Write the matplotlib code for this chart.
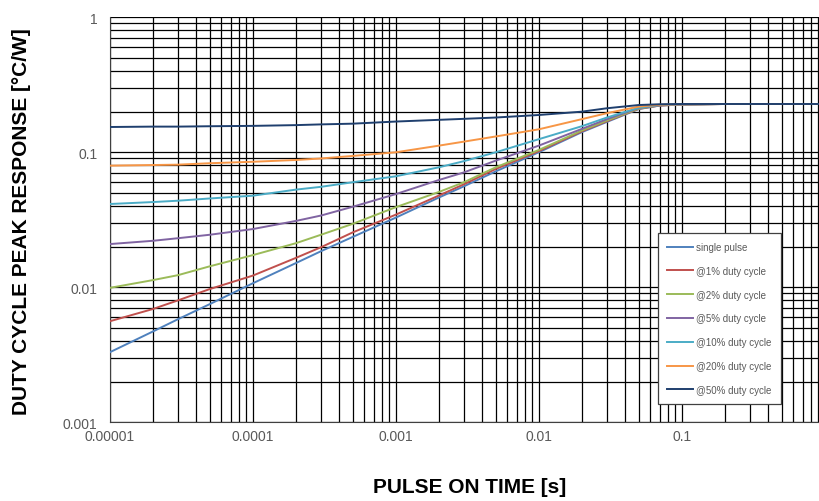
import numpy as np
import matplotlib; matplotlib.use('Agg')
import matplotlib.pyplot as plt
from matplotlib.ticker import FixedLocator, NullFormatter

plt.rcParams['font.family'] = ['Liberation Sans', 'DejaVu Sans']

# pulse on time [s]
t = [1e-5, 2e-5, 3e-5, 5e-5, 1e-4, 2e-4, 3e-4, 5e-4, 1e-3, 2e-3, 3e-3, 5e-3,
     1e-2, 2e-2, 3e-2, 5e-2, 7e-2, 1e-1, 2e-1, 1.0]

z_single = [0.0033, 0.0047, 0.0058, 0.0075, 0.0107, 0.0151, 0.0185, 0.0236, 0.0328, 0.0462,
            0.056, 0.0722, 0.100, 0.141, 0.168, 0.209, 0.222, 0.226, 0.228, 0.228]
z_d01 = [0.0056, 0.0069, 0.0080, 0.0097, 0.0122, 0.0165, 0.0198, 0.0255, 0.0345, 0.0478,
         0.058, 0.0752, 0.102, 0.143, 0.170, 0.210, 0.222, 0.226, 0.228, 0.228]
z_d02 = [0.0099, 0.0113, 0.0123, 0.0143, 0.0173, 0.0212, 0.0245, 0.0295, 0.0392, 0.0508,
         0.060, 0.0774, 0.104, 0.145, 0.172, 0.211, 0.223, 0.226, 0.228, 0.228]
z_d05 = [0.0209, 0.0221, 0.0231, 0.0245, 0.027, 0.031, 0.034, 0.0395, 0.049, 0.0623,
         0.071, 0.0867, 0.112, 0.149, 0.176, 0.213, 0.223, 0.226, 0.228, 0.228]
z_d10 = [0.0414, 0.0428, 0.0438, 0.0455, 0.0477, 0.0529, 0.0555, 0.060, 0.0664, 0.0774,
         0.086, 0.100, 0.125, 0.156, 0.181, 0.214, 0.224, 0.227, 0.228, 0.228]
z_d20 = [0.0796, 0.0805, 0.081, 0.083, 0.0851, 0.0877, 0.090, 0.094, 0.100, 0.112,
         0.120, 0.131, 0.148, 0.176, 0.195, 0.218, 0.225, 0.227, 0.228, 0.228]
z_d50 = [0.154, 0.155, 0.155, 0.156, 0.157, 0.159, 0.161, 0.163, 0.169, 0.174,
         0.177, 0.181, 0.189, 0.200, 0.212, 0.224, 0.227, 0.228, 0.228, 0.228]

series = [z_single, z_d01, z_d02, z_d05, z_d10, z_d20, z_d50]
labels = ['single pulse', '@1% duty cycle', '@2% duty cycle', '@5% duty cycle',
          '@10% duty cycle', '@20% duty cycle', '@50% duty cycle']
colors = ['#4F81BD', '#C0504D', '#9BBB59', '#8064A2', '#4BACC6', '#F79646', '#1F3F6E']

xticks = [1e-5, 1e-4, 1e-3, 1e-2, 1e-1]
xticklabels = ['0.00001', '0.0001', '0.001', '0.01', '0.1']
yticks = [0.001, 0.01, 0.1, 1]
yticklabels = ['0.001', '0.01', '0.1', '1']

fig = plt.figure(figsize=(8.2, 5.02), dpi=100)
ax = fig.add_axes([0.1338, 0.1568, 1 - 0.1338, 0.9635 - 0.1568])

for z, lab, col in zip(series, labels, colors):
    ax.plot(t, z, color=col, lw=1.4, label=lab, zorder=3, solid_joinstyle='round')

ax.set_xscale('log'); ax.set_yscale('log')
ax.set_xlim(1e-5, 10 ** (-5 + (820 - 109.7) / 143))
ax.set_ylim(0.001, 1)

minx = [m * 10.0 ** e for e in range(-5, 1) for m in range(2, 10)]
miny = [m * 10.0 ** e for e in range(-3, 0) for m in range(2, 10)]
ax.xaxis.set_major_locator(FixedLocator(xticks))
ax.xaxis.set_minor_locator(FixedLocator(minx))
ax.yaxis.set_major_locator(FixedLocator(yticks))
ax.yaxis.set_minor_locator(FixedLocator(miny))
ax.set_xticklabels(xticklabels)
ax.set_yticklabels(yticklabels)
ax.xaxis.set_minor_formatter(NullFormatter())
ax.yaxis.set_minor_formatter(NullFormatter())
ax.grid(which='both', color='black', lw=0.9, zorder=1)
ax.set_axisbelow(True)
ax.tick_params(which='both', length=0, labelsize=10, labelcolor='#595959')
ax.tick_params(axis='x', pad=5)
ax.tick_params(axis='y', pad=9)
ax.spines['right'].set_visible(False)
ax.spines['top'].set_visible(False)
for s in ('left', 'bottom'):
    ax.spines[s].set_color('#404040')

leg = ax.legend(loc='lower left', bbox_to_anchor=(0.772, 0.045), fontsize=7,
                labelspacing=1.42, handlelength=2.6, handletextpad=0.4,
                borderpad=0.95, borderaxespad=0, fancybox=False, framealpha=1)
leg.get_frame().set_edgecolor('#404040')
leg.get_frame().set_linewidth(0.9)
for txt in leg.get_texts():
    txt.set_color('#595959')

fig.text(22 / 820, 1 - 222 / 502, 'DUTY CYCLE PEAK RESPONSE [°C/W]', rotation=90,
         ha='center', va='center', fontsize=15, fontweight='bold')
fig.text(470 / 820, 1 - 488 / 502, 'PULSE ON TIME [s]', ha='center', va='center',
         fontsize=15, fontweight='bold')

fig.savefig('out.png', dpi=100)
